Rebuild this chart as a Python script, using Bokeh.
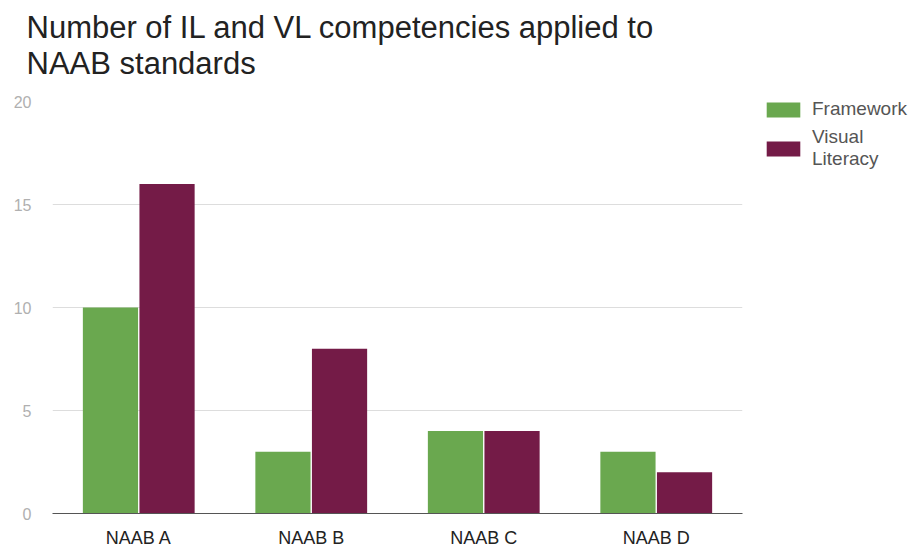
from bokeh.plotting import figure
from bokeh.models import (ColumnDataSource, Legend, LegendItem, Title, FactorRange,
                          FixedTicker)
from bokeh.transform import dodge
from bokeh.embed import file_html
from bokeh.resources import INLINE

categories = ["NAAB A", "NAAB B", "NAAB C", "NAAB D"]
framework = [10, 3, 4, 3]
visual_literacy = [16, 8, 4, 2]
y_ticks = [0, 5, 10, 15, 20]
series_labels = ["Framework", "Visual\nLiteracy"]

source = ColumnDataSource(dict(cat=categories, fw=framework, vl=visual_literacy))

FONT = "Liberation Sans"

p = figure(x_range=FactorRange(*categories, range_padding=0), y_range=(0, 20),
           frame_width=690, frame_height=412, output_backend="svg", toolbar_location=None,
           min_border_left=52, min_border_right=0, min_border_bottom=33, min_border_top=101)

# thin spacer between title block and plot frame
p.add_layout(Title(text=" ", text_font=FONT, text_font_size="1px", standoff=10), "above")
p.add_layout(Title(text="Number of IL and VL competencies applied to\nNAAB standards",
                   text_font=FONT, text_font_size="31px", text_font_style="normal",
                   text_color="#222222", text_line_height=1.04, offset=-26,
                   vertical_align="top", standoff=12), "above")

r1 = p.vbar(x=dodge("cat", -0.164, range=p.x_range), top="fw", width=0.32, source=source,
            fill_color="#6aa84f", line_color=None)
r2 = p.vbar(x=dodge("cat", 0.164, range=p.x_range), top="vl", width=0.32, source=source,
            fill_color="#741b47", line_color=None)

legend = Legend(items=[LegendItem(label=series_labels[0], renderers=[r1]),
                       LegendItem(label=series_labels[1], renderers=[r2])],
                location=(20, 343), label_text_font=FONT, label_text_font_size="19px",
                label_text_line_height=1.1,
                label_text_color="#555555", glyph_width=42, glyph_height=19,
                label_height=19, border_line_color=None, background_fill_alpha=0,
                spacing=6, margin=12, padding=0, label_standoff=8)
p.add_layout(legend, "right")

p.outline_line_color = None
p.xgrid.grid_line_color = None
p.ygrid.grid_line_color = "#dddddd"
p.ygrid.ticker = FixedTicker(ticks=y_ticks)

p.yaxis.ticker = FixedTicker(ticks=y_ticks)
p.yaxis.axis_line_color = None
p.yaxis.major_tick_line_color = None
p.yaxis.minor_tick_line_color = None
p.yaxis.major_label_text_color = "#b0b0b0"
p.yaxis.major_label_text_font = FONT
p.yaxis.major_label_text_font_size = "16px"
p.yaxis.major_label_standoff = 15

p.xaxis.axis_line_color = "#555555"
p.xaxis.major_tick_line_color = None
p.xaxis.minor_tick_line_color = None
p.xaxis.major_label_text_color = "#222222"
p.xaxis.major_label_text_font = FONT
p.xaxis.major_label_text_font_size = "18px"
p.xaxis.major_label_standoff = 8

open("out.html", "w").write(file_html(p, INLINE))
